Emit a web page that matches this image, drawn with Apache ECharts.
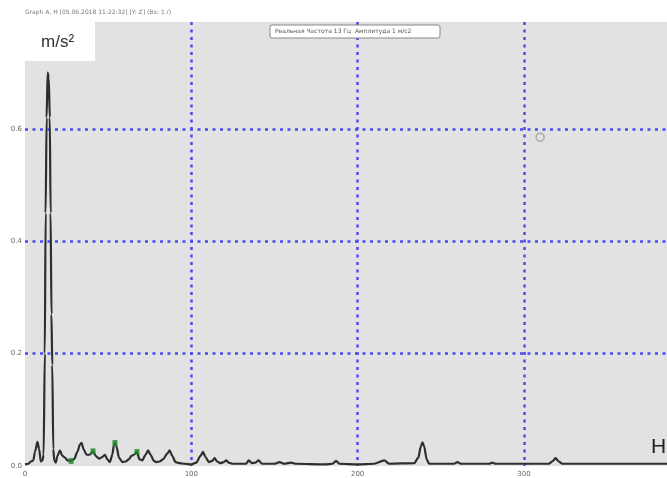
<!DOCTYPE html>
<html>
<head>
<meta charset="utf-8">
<script src="https://cdn.jsdelivr.net/npm/echarts@6/dist/echarts.min.js"></script>
<style>
html,body{margin:0;padding:0;background:#fff;}
#c{width:667px;height:478px;}
</style>
</head>
<body>
<div id="c"></div>
<script>
// Spectrum data (frequency in Hz, amplitude in m/s^2)
const freqs = [0,2,3.5,5,6,7.5,8.5,9.5,10.5,11.2,11.9,12.4,13.0,13.6,14.3,14.9,15.4,15.9,16.4,17.0,17.6,18.5,19.5,21,22.5,24,25.5,27.7,29.5,31.5,33,34,35.2,37,38.8,40.9,42.5,44.5,46.5,48,49.5,51,52.5,53.5,54.1,55,56.5,58.5,60.5,62.5,64,65.5,67.3,68.8,70.5,72.5,74,75.5,77.5,79,81,83,85.5,87,88.5,90.5,93,96,100,103,105.5,107,108.5,110.5,112.5,114,115.5,117.5,119.5,121,122.5,125,133,134.5,136.5,138.5,140.5,142.5,150,153,156,160,163,180,185,187,189,200,210,216,219,234,236.5,238,239,240,241.5,243,258,260,262,279,281,283,315,317,319,321,323,386];
const amps = [0.003,0.004,0.008,0.01,0.025,0.043,0.03,0.008,0.01,0.02,0.2,0.45,0.62,0.70,0.69,0.62,0.45,0.27,0.18,0.03,0.01,0.006,0.018,0.028,0.018,0.015,0.01,0.009,0.012,0.025,0.038,0.041,0.03,0.02,0.02,0.026,0.018,0.013,0.016,0.02,0.012,0.007,0.02,0.038,0.041,0.035,0.015,0.007,0.008,0.012,0.018,0.02,0.025,0.012,0.01,0.02,0.028,0.02,0.009,0.007,0.008,0.012,0.022,0.028,0.018,0.007,0.005,0.004,0.003,0.006,0.018,0.025,0.016,0.007,0.009,0.014,0.008,0.005,0.007,0.01,0.006,0.004,0.004,0.01,0.005,0.006,0.01,0.004,0.004,0.007,0.004,0.006,0.004,0.003,0.004,0.009,0.004,0.003,0.004,0.01,0.004,0.005,0.015,0.035,0.042,0.035,0.012,0.004,0.004,0.007,0.004,0.004,0.006,0.004,0.004,0.008,0.014,0.008,0.004,0.004];
// Harmonic markers (green squares)
const harmHz = [27.7,40.9,54.1,67.3];
const harmAmp = [0.009,0.026,0.041,0.025];
// Cursor marker
const cursorHz = [309.7];
const cursorAmp = [0.585];
// Axis ticks
const xTicks = [0,100,200,300];
const yTicks = [0.0,0.2,0.4,0.6];

const lineData = freqs.map((f,i)=>[f,amps[i]]);
const harmData = harmHz.map((f,i)=>[f,harmAmp[i]]);
const cursorData = cursorHz.map((f,i)=>[f,cursorAmp[i]]);

const gridLine = {show:true, lineStyle:{color:'#4b4bf0', width:2.5, type:[3,4.5]}, showMinLine:false, showMaxLine:false};
const chart = echarts.init(document.getElementById('c'), null, {renderer:'canvas'});
chart.setOption({
  animation:false,
  backgroundColor:'#ffffff',
  grid:{left:25, right:0, top:22, bottom:12, show:true, backgroundColor:'#e2e2e2', borderWidth:0},
  xAxis:{type:'value', min:0, max:386, interval:100,
    axisLine:{show:false}, axisTick:{show:false},
    axisLabel:{color:'#666', fontSize:7, margin:5, showMaxLabel:false, fontFamily:'DejaVu Sans'},
    splitLine:gridLine},
  yAxis:{type:'value', min:0, max:0.79, interval:0.2,
    axisLine:{show:false}, axisTick:{show:false},
    axisLabel:{color:'#666', fontSize:7, margin:3, showMaxLabel:false, fontFamily:'DejaVu Sans',
      formatter:v=>v.toFixed(1)},
    splitLine:gridLine},
  series:[
    {type:'line', data:lineData, symbol:'none', showSymbol:false, smooth:0.25, smoothMonotone:'x',
      lineStyle:{color:'#2e2e2e', width:2.2}, z:3},
    {type:'scatter', data:harmData, symbol:'rect', symbolSize:[5,6],
      itemStyle:{color:'#1f8a2a'}, z:4},
    {type:'scatter', data:cursorData, symbol:'circle', symbolSize:8,
      itemStyle:{color:'rgba(0,0,0,0)', borderColor:'#9a9a9a', borderWidth:1.5}, z:4}
  ],
  graphic:[
    {type:'text', left:25, top:9, z:10, style:{text:'Graph A, H [05.06.2018 11:22:32] [Y: Z] (Bx: 1 /)', fontSize:6, fill:'#777', fontFamily:'DejaVu Sans'}},
    {type:'rect', shape:{x:0, y:20, width:95, height:41}, style:{fill:'#ffffff'}, z:10},
    {type:'text', left:41, top:34, z:11, style:{text:'m/s²', fontSize:17, fill:'#333', fontFamily:'Liberation Sans'}},
    {type:'rect', shape:{x:270, y:25, width:170, height:13, r:2}, style:{fill:'#ffffff', stroke:'#888', lineWidth:1}, z:10},
    {type:'text', left:275, top:28, z:11, style:{text:'Реальная Частота 13 Гц  Амплитуда 1 м/с2', fontSize:6, fill:'#555', fontFamily:'DejaVu Sans'}},
    {type:'text', left:651, top:437, z:11, style:{text:'Hz', fontSize:21, fill:'#222', fontFamily:'Liberation Sans'}}
  ]
});
</script>
</body>
</html>
